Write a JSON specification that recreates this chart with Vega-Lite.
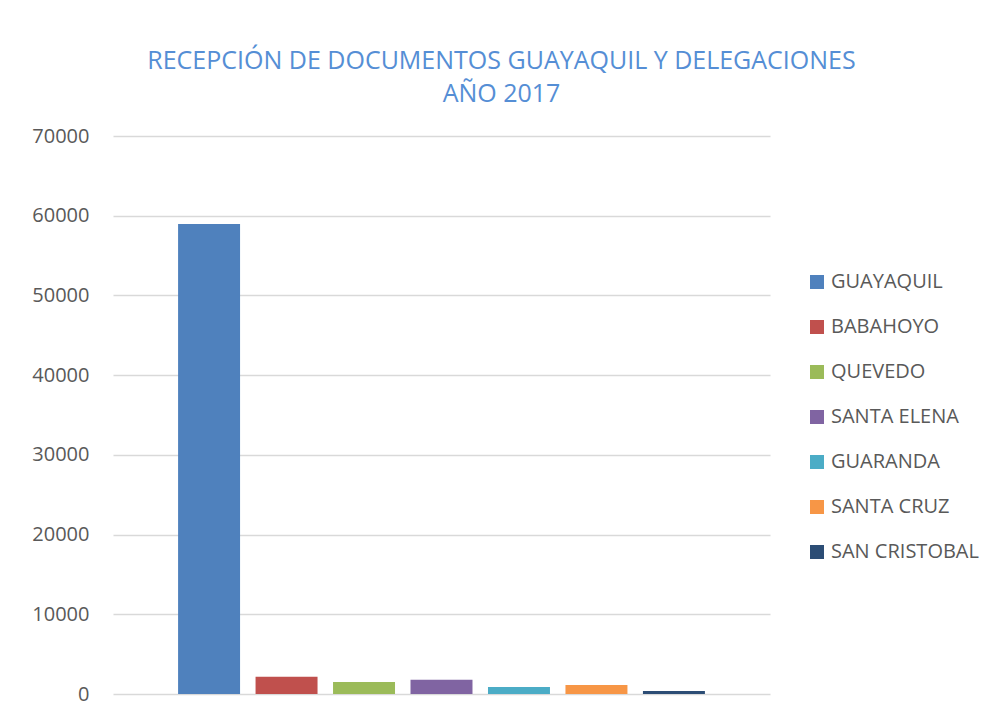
{
  "$schema": "https://vega.github.io/schema/vega-lite/v6.json",
  "width": 657,
  "height": 558,
  "autosize": {"type": "none"},
  "padding": {"left": 113, "top": 136, "right": 228, "bottom": 27},
  "background": "white",
  "title": {
    "text": ["RECEPCIÓN DE DOCUMENTOS GUAYAQUIL Y DELEGACIONES", "AÑO 2017"],
    "anchor": "middle",
    "frame": "group",
    "dx": 60,
    "offset": 19,
    "font": "Open Sans",
    "fontSize": 25,
    "fontWeight": "normal",
    "color": "#558ED5",
    "lineHeight": 33
  },
  "data": {
    "values": [
      {"sede": "GUAYAQUIL", "documentos": 58950},
      {"sede": "BABAHOYO", "documentos": 2150},
      {"sede": "QUEVEDO", "documentos": 1520},
      {"sede": "SANTA ELENA", "documentos": 1780},
      {"sede": "GUARANDA", "documentos": 880},
      {"sede": "SANTA CRUZ", "documentos": 1130},
      {"sede": "SAN CRISTOBAL", "documentos": 390}
    ]
  },
  "mark": {"type": "bar"},
  "encoding": {
    "x": {
      "field": "sede",
      "type": "nominal",
      "sort": null,
      "scale": {"paddingInner": 0.2, "paddingOuter": 0.84},
      "axis": null
    },
    "y": {
      "field": "documentos",
      "type": "quantitative",
      "scale": {"domain": [0, 70000], "nice": false},
      "axis": {
        "title": null,
        "values": [0, 10000, 20000, 30000, 40000, 50000, 60000, 70000],
        "format": "d",
        "domain": false,
        "ticks": false,
        "labelPadding": 24,
        "labelFont": "Open Sans",
        "labelFontSize": 20,
        "labelColor": "#595959",
        "gridColor": "#d9d9d9",
        "gridWidth": 1.5
      }
    },
    "color": {
      "field": "sede",
      "type": "nominal",
      "sort": null,
      "scale": {
        "domain": ["GUAYAQUIL", "BABAHOYO", "QUEVEDO", "SANTA ELENA", "GUARANDA", "SANTA CRUZ", "SAN CRISTOBAL"],
        "range": ["#4F81BD", "#C0504D", "#9BBB59", "#8064A2", "#4BACC6", "#F79646", "#2C4D75"]
      },
      "legend": {
        "title": null,
        "orient": "none",
        "legendX": 694,
        "legendY": 136,
        "padding": 0,
        "symbolType": "square",
        "symbolSize": 196,
        "symbolStrokeWidth": 0,
        "labelFont": "Open Sans",
        "labelFontSize": 20,
        "labelColor": "#595959",
        "labelOffset": 4,
        "rowPadding": 25
      }
    }
  },
  "config": {
    "view": {"stroke": null}
  }
}
